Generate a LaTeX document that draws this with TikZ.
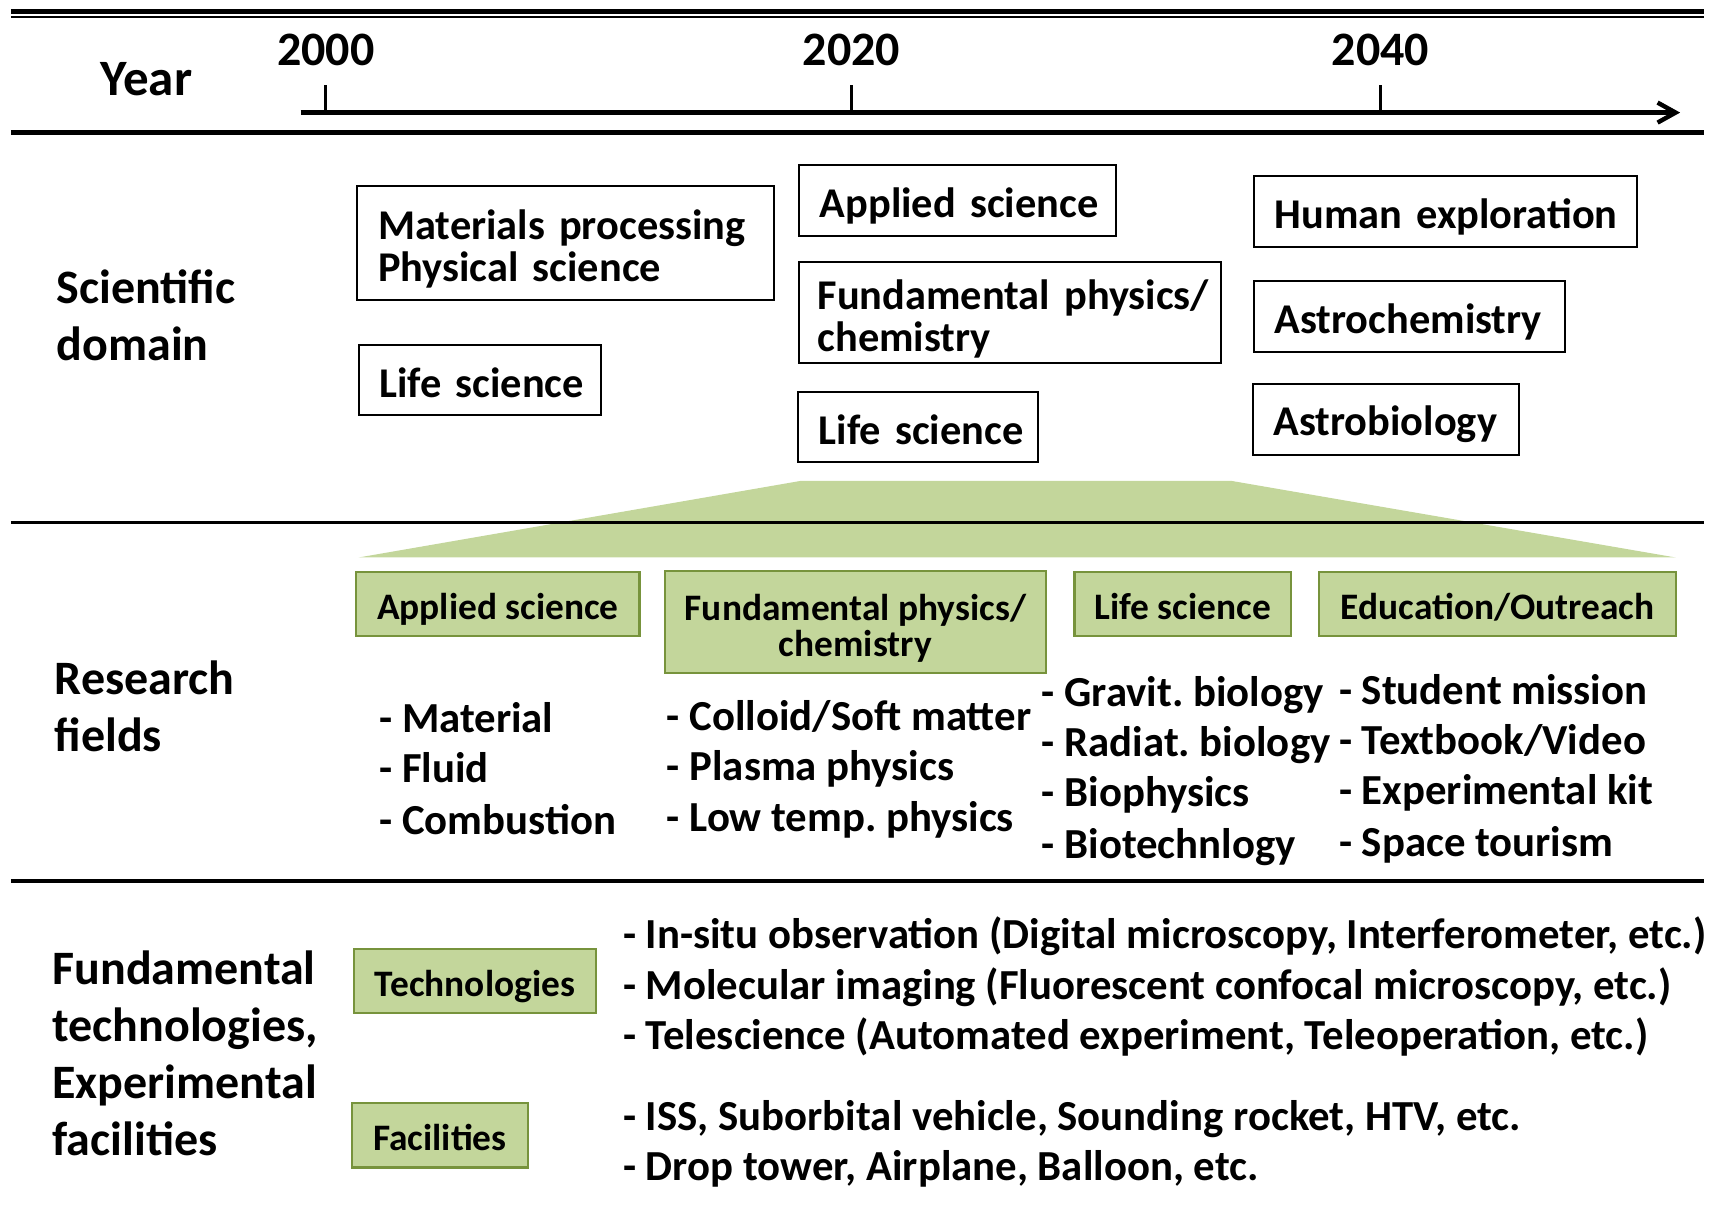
\documentclass[tikz,border=0pt]{standalone}
\usepackage{fontspec}
\setmainfont{Carlito}
\usetikzlibrary{arrows.meta}
\def\pxu{0.5466pt}
\definecolor{leaf}{RGB}{195,214,155}
\definecolor{leafline}{RGB}{119,147,60}
\frenchspacing

\begin{document}
\begin{tikzpicture}[x=0.5466pt, y=-0.5466pt,
  every node/.style={inner sep=0pt, outer sep=0pt},
  head/.style={font=\fontsize{24}{28.5}\selectfont\bfseries, align=left, anchor=west},
  yearlbl/.style={font=\fontsize{24}{28.5}\selectfont\bfseries, text height=18.5pt, text depth=3.2pt},
  wbox/.style={draw=black, line width=1pt, fill=white,
    font=\fontsize{21.2}{20.8}\selectfont\bfseries, align=left, inner xsep=19*\pxu},
  wline/.style={text height=17.5pt, text depth=0.8pt},
  gbox/.style={draw=leafline, line width=1.1pt, fill=leaf,
    font=\fontsize{18.7}{18}\selectfont\bfseries, align=center},
  gline/.style={text height=16pt, text depth=0.7pt},
  item/.style={font=\fontsize{21.4}{25}\selectfont\bfseries, anchor=west,
    text height=17pt, text depth=2.7pt},
  rule/.style={line width=1.6pt},
]
\useasboundingbox (0,0) rectangle (1568,1114);

% header rules and time axis
\draw[line width=2.1pt] (10,10.5) -- (1559,10.5);
\draw[line width=0.7pt] (10,15.5) -- (1559,15.5);
\draw[line width=2.4pt] (10,121) -- (1559,121);
\coordinate (t0) at (275,103);
\coordinate (t1) at (1537,103);
\draw[line width=2.6pt, -{Straight Barb[length=9pt, width=10pt, line width=2.2pt]}] (t0) -- (t1);
\node[yearlbl, font=\fontsize{25.5}{28.5}\selectfont\bfseries] (year) at (134,73) {Year};
\foreach \xx/\yy in {298/2000, 779/2020, 1263/2040}{
  \coordinate (tick\yy) at (\xx,103);
  \coordinate (tickt\yy) at (\xx,78);
  \draw[line width=1.3pt] (tick\yy) -- (tickt\yy);
  \node[yearlbl] (lbl\yy) at (\xx,46) {\yy};
}

% scientific domain
\node[head] (sd) at (52,288) {Scientific\\domain};
\node[wbox, minimum width=381*\pxu, minimum height=104*\pxu, text width=343*\pxu] (mp) at (517.5,222)
  {\rule{0pt}{21pt}\mbox{Materials processing}\\\mbox{Physical science}};
\node[wbox, wline, minimum width=222*\pxu, minimum height=64*\pxu, text width=184*\pxu] (ls1) at (439,348) {\mbox{Life science}};
\node[wbox, wline, minimum width=290*\pxu, minimum height=65*\pxu, text width=252*\pxu] (as2) at (876,183.5) {\mbox{Applied science}};
\node[wbox, minimum width=386*\pxu, minimum height=92*\pxu, text width=352*\pxu, inner xsep=17*\pxu] (fp2) at (924,286)
  {\rule{0pt}{21pt}\mbox{Fundamental physics/}\\\mbox{chemistry}};
\node[wbox, wline, minimum width=220*\pxu, minimum height=64*\pxu, text width=182*\pxu] (ls2) at (840,391) {\mbox{Life science}};
\node[wbox, wline, minimum width=351*\pxu, minimum height=65*\pxu, text width=313*\pxu] (he) at (1322.5,193.5) {\mbox{Human exploration}};
\node[wbox, wline, minimum width=285*\pxu, minimum height=65*\pxu, text width=247*\pxu] (ac) at (1289.5,289.5) {\mbox{Astrochemistry}};
\node[wbox, wline, minimum width=244*\pxu, minimum height=65*\pxu, text width=206*\pxu] (ab) at (1268,383.5) {\mbox{Astrobiology}};

% widening band from the 2020 domains to the research fields
\fill[leaf] (732,440) -- (1127,440) -- (1533,510) -- (328,510) -- cycle;
\draw[rule] (10,478) -- (1559,478);

% research fields
\node[head] (rf) at (50,646) {Research\\fields};
\node[gbox, gline, minimum width=259*\pxu, minimum height=59*\pxu] (rf1) at (455.5,552.5) {Applied science};
\node[gbox, minimum width=349*\pxu, minimum height=94*\pxu] (rf2) at (782.5,569) {\rule{0pt}{19pt}Fundamental physics/\\chemistry};
\node[gbox, gline, minimum width=198*\pxu, minimum height=59*\pxu] (rf3) at (1082,552.5) {Life science};
\node[gbox, gline, minimum width=326*\pxu, minimum height=59*\pxu] (rf4) at (1370,552.5) {Education/Outreach};

\node[item] (a1) at (347,657) {- Material};
\node[item] (a2) at (347,703) {- Fluid};
\node[item] (a3) at (347,750) {- Combustion};

\node[item] (b1) at (610,655) {- Colloid/Soft matter};
\node[item] (b2) at (610,701) {- Plasma physics};
\node[item] (b3) at (610,748) {- Low temp. physics};

\node[item] (c1) at (953,633) {- Gravit. biology};
\node[item] (c2) at (953,679) {- Radiat. biology};
\node[item] (c3) at (953,725) {- Biophysics};
\node[item] (c4) at (953,772) {- Biotechnlogy};

\node[item] (d1) at (1225,631) {- Student mission};
\node[item] (d2) at (1225,677) {- Textbook/Video};
\node[item] (d3) at (1225,723) {- Experimental kit};
\node[item] (d4) at (1225,770) {- Space tourism};

\draw[rule] (10,806) -- (1559,806);

% fundamental technologies and facilities
\node[head] (ft) at (48,964) {Fundamental\\technologies,\\Experimental\\facilities};
\node[gbox, gline, minimum width=221*\pxu, minimum height=59*\pxu] (tech) at (434.5,897.5) {Technologies};
\node[gbox, gline, minimum width=161*\pxu, minimum height=59*\pxu] (fac) at (402.5,1038.5) {Facilities};

\node[item] (e1) at (570,855) {- In-situ observation (Digital microscopy, Interferometer, etc.)};
\node[item] (e2) at (570,901) {- Molecular imaging (Fluorescent confocal microscopy, etc.)};
\node[item] (e3) at (570,947) {- Telescience (Automated experiment, Teleoperation, etc.)};
\node[item] (f1) at (570,1021) {- ISS, Suborbital vehicle, Sounding rocket, HTV, etc.};
\node[item] (f2) at (570,1067) {- Drop tower, Airplane, Balloon, etc.};
\end{tikzpicture}
\end{document}
